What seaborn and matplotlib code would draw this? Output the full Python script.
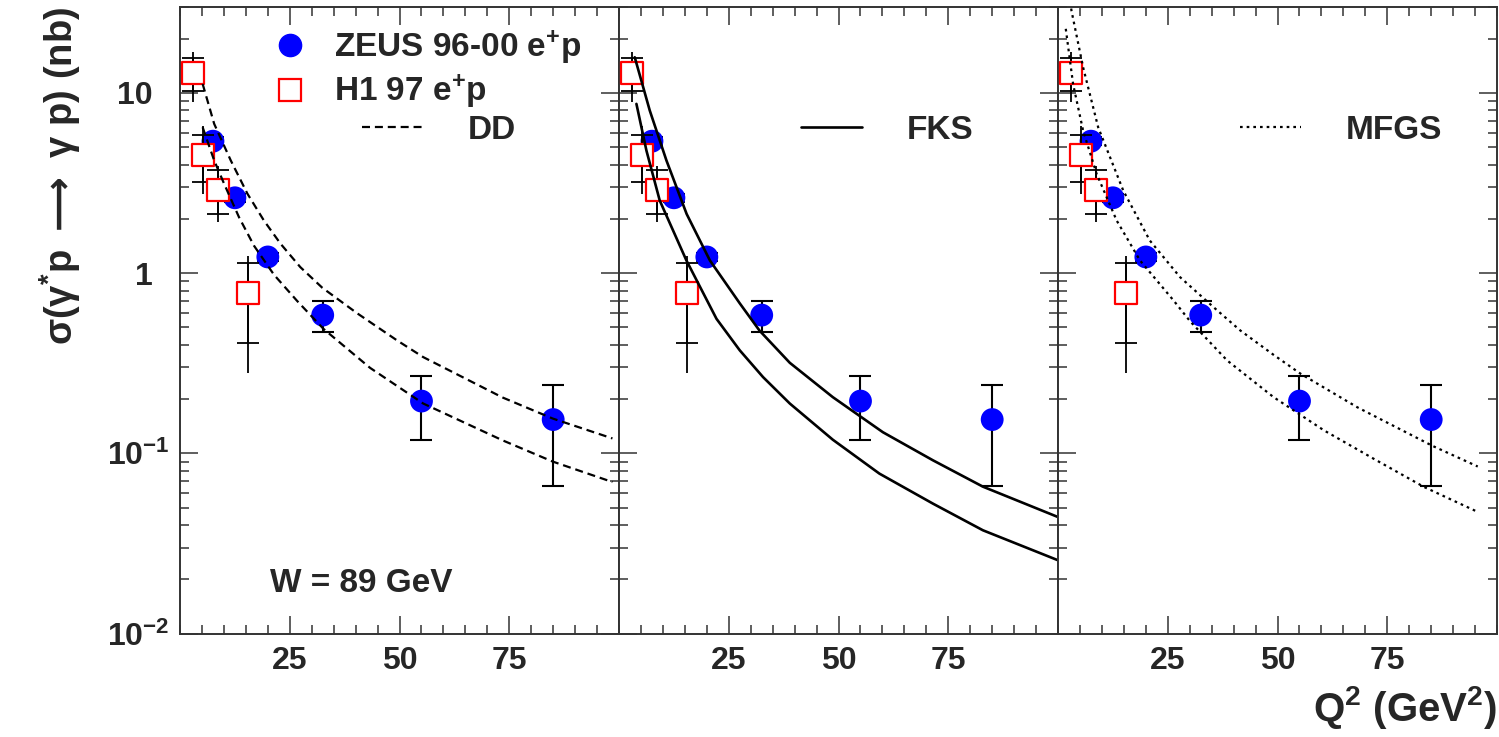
import numpy as np
import pandas as pd
import matplotlib
matplotlib.use("Agg")
import matplotlib.pyplot as plt
from matplotlib.lines import Line2D
from matplotlib.transforms import ScaledTranslation
from matplotlib.ticker import FixedLocator, MultipleLocator, LogLocator, NullFormatter, FixedFormatter
import seaborn as sns

# ---------------- data ----------------
zeus_q2 = [7.5, 12.5, 20.0, 32.5, 55.0, 85.0]
zeus_sigma = [5.40, 2.62, 1.23, 0.585, 0.195, 0.154]
zeus_lo = [5.13, 2.49, 1.17, 0.471, 0.119, 0.0656]
zeus_hi = [5.67, 2.75, 1.29, 0.70, 0.268, 0.241]

h1_q2 = [2.9, 5.2, 8.7, 15.5]
h1_sigma = [12.9, 4.54, 2.91, 0.78]
h1_tot_lo = [8.88, 2.76, 1.92, 0.280]
h1_tot_hi = [16.8, 6.59, 3.92, 1.25]
h1_stat_lo = [10.3, 3.20, 2.13, 0.411]
h1_stat_hi = [15.7, 5.81, 3.72, 1.136]

dd_up_q2 = [5.15, 7.78, 11.56, 15.35, 19.1, 22.9, 27.4, 32.4, 40.3, 49.4, 55.4, 73.5, 84.9, 98.5]
dd_up_sig = [11.23, 6.74, 4.22, 2.76, 1.96, 1.456, 1.08, 0.83, 0.60, 0.424, 0.342, 0.204, 0.156, 0.121]
dd_lo_q2 = [5.15, 7.78, 10.05, 13.45, 16.85, 21.4, 26.7, 32.7, 43.3, 55.4, 73.5, 84.9, 98.5]
dd_lo_sig = [6.45, 4.22, 3.13, 2.04, 1.42, 0.98, 0.70, 0.49, 0.298, 0.189, 0.118, 0.090, 0.0693]

fks_up_q2 = [3.58, 7.0, 10.8, 15.4, 20.7, 27.5, 32.0, 38.9, 48.7, 60.1, 71.5, 82.9, 100.0]
fks_up_sig = [15.78, 7.99, 4.22, 2.13, 1.176, 0.68, 0.48, 0.318, 0.205, 0.131, 0.0915, 0.0653, 0.0443]
fks_lo_q2 = [3.96, 6.24, 9.27, 15.35, 22.2, 27.5, 32.8, 38.9, 48.7, 59.3, 71.5, 82.9, 100.0]
fks_lo_sig = [8.70, 4.79, 2.53, 1.176, 0.558, 0.373, 0.265, 0.189, 0.119, 0.0772, 0.0526, 0.0374, 0.0255]

mfgs_up_q2 = [2.8, 3.06, 5.71, 9.14, 14.85, 20.9, 27.8, 35.4, 41.5, 49.1, 55.3, 68.2, 85.3, 95.6]
mfgs_up_sig = [32.0, 28.6, 13.88, 6.45, 2.875, 1.518, 0.950, 0.648, 0.481, 0.352, 0.276, 0.180, 0.110, 0.0845]
mfgs_lo_q2 = [1.76, 3.43, 5.71, 8.78, 13.35, 18.67, 26.3, 30.1, 38.5, 49.1, 60.6, 72.0, 83.4, 95.6]
mfgs_lo_sig = [22.7, 11.2, 6.18, 3.56, 1.96, 1.176, 0.706, 0.54, 0.328, 0.205, 0.134, 0.093, 0.065, 0.0473]

x_ticks = [25, 50, 75]
x_tick_labels = ["25", "50", "75"]
y_ticks = [0.01, 0.1, 1, 10]
y_tick_labels = ["10$^{-2}$", "10$^{-1}$", "1", "10"]

model_names = ["DD", "FKS", "MFGS"]
model_curves = [
    [(dd_up_q2, dd_up_sig), (dd_lo_q2, dd_lo_sig)],
    [(fks_up_q2, fks_up_sig), (fks_lo_q2, fks_lo_sig)],
    [(mfgs_up_q2, mfgs_up_sig), (mfgs_lo_q2, mfgs_lo_sig)],
]
model_styles = [(0, (3.6, 2.2)), "-", (0, (1.2, 1.8))]
model_lw = [1.6, 1.9, 1.6]

# ---------------- style ----------------
sns.set_theme(style="ticks")
plt.rcParams["font.family"] = ["Liberation Sans", "DejaVu Sans"]
plt.rcParams["font.weight"] = "bold"
plt.rcParams["mathtext.default"] = "regular"
plt.rcParams["axes.linewidth"] = 1.4
plt.rcParams["axes.edgecolor"] = "#333333"

fig = plt.figure(figsize=(14.99, 7.37), dpi=100)
left, right, bottom, top = 0.1201, 0.9987, 0.1404, 0.9905
w = (right - left) / 3
axes = []
for i in range(3):
    if i == 0:
        ax = fig.add_axes([left + i * w, bottom, w, top - bottom])
    else:
        ax = fig.add_axes([left + i * w, bottom, w, top - bottom], sharey=axes[0])
    axes.append(ax)

zeus_df = pd.DataFrame({"Q2": zeus_q2, "sigma": zeus_sigma})
h1_df = pd.DataFrame({"Q2": h1_q2, "sigma": h1_sigma})

for i, ax in enumerate(axes):
    ax.set_yscale("log")
    # model curves
    for (cx, cy) in model_curves[i]:
        sns.lineplot(x=cx, y=cy, ax=ax, color="black", linewidth=model_lw[i],
                     linestyle=model_styles[i], sort=False, estimator=None, zorder=7)
    # ZEUS
    zs = np.array(zeus_sigma)
    ax.errorbar(zeus_q2, zeus_sigma,
                yerr=[zs - np.array(zeus_lo), np.array(zeus_hi) - zs],
                fmt="none", ecolor="black", elinewidth=1.5, capsize=8, capthick=1.5, zorder=3)
    sns.scatterplot(data=zeus_df, x="Q2", y="sigma", ax=ax, marker="o", s=270,
                    color="blue", edgecolor="none", linewidth=0, zorder=4)
    # H1
    ax.vlines(h1_q2, h1_tot_lo, h1_tot_hi, color="black", linewidth=1.3, zorder=5)
    hs = np.array(h1_sigma)
    ax.errorbar(h1_q2, h1_sigma,
                yerr=[hs - np.array(h1_stat_lo), np.array(h1_stat_hi) - hs],
                fmt="none", ecolor="black", elinewidth=1.3, capsize=8, capthick=1.3, zorder=5)
    sns.scatterplot(data=h1_df, x="Q2", y="sigma", ax=ax, marker="s", s=235,
                    facecolor="white", edgecolor="red", linewidth=1.6, zorder=6)

    ax.set_xlim(0, 100)
    ax.set_ylim(0.01, 30)
    ax.xaxis.set_major_locator(FixedLocator(x_ticks))
    ax.xaxis.set_major_formatter(FixedFormatter(x_tick_labels))
    ax.xaxis.set_minor_locator(MultipleLocator(5))
    ax.yaxis.set_major_locator(FixedLocator(y_ticks))
    ax.yaxis.set_major_formatter(FixedFormatter(y_tick_labels))
    ax.yaxis.set_minor_locator(LogLocator(base=10, subs=np.arange(2, 10), numticks=20))
    ax.yaxis.set_minor_formatter(NullFormatter())
    ax.tick_params(which="both", direction="in", top=True, right=True, width=1.1,
                   color="#333333")
    ax.tick_params(which="major", length=13)
    ax.tick_params(which="minor", length=6.5)
    ax.tick_params(axis="x", which="major", labelsize=23, pad=9)
    ax.tick_params(axis="y", which="major", labelsize=23, pad=20)
    ax.set_xlabel("")
    ax.set_ylabel("")
    if i > 0:
        ax.tick_params(axis="y", labelleft=False)
    for lab in ax.get_xticklabels() + ax.get_yticklabels():
        lab.set_fontweight("bold")

    # model legend
    mh = Line2D([], [], color="black", linewidth=model_lw[i], linestyle=model_styles[i])
    leg = ax.legend(handles=[mh], labels=[model_names[i]], loc="upper left",
                    bbox_to_anchor=(0.4146, 0.828), frameon=False, fontsize=24,
                    handlelength=1.82, handletextpad=1.36, borderpad=0, borderaxespad=0)
    for t in leg.get_texts():
        t.set_fontweight("bold")

# data legend in first panel
ax1 = axes[0]
model_leg = ax1.get_legend()
hz = Line2D([], [], marker="o", linestyle="none", markerfacecolor="blue",
            markeredgecolor="blue", markersize=16)
hh = Line2D([], [], marker="s", linestyle="none", markerfacecolor="white",
            markeredgecolor="red", markeredgewidth=1.6, markersize=15.3)
leg1 = ax1.legend(handles=[hz, hh], labels=["ZEUS 96-00 e$^{+}$p", "H1 97 e$^{+}$p"],
                  loc="upper left", bbox_to_anchor=(0.213, 0.966), frameon=False,
                  fontsize=24, handlelength=1.0, handletextpad=0.8, borderpad=0,
                  borderaxespad=0, labelspacing=0.2)
for t in leg1.get_texts():
    t.set_fontweight("bold")
ax1.add_artist(model_leg)

# shift exponent-style y labels so that their "10" lines up with the plain "10"
for tick in ax1.yaxis.get_major_ticks():
    lab = tick.label1
    if "^" in lab.get_text():
        lab.set_transform(lab.get_transform() + ScaledTranslation(0.17, 0, fig.dpi_scale_trans))

ax1.text(0.205, 0.066, "W = 89 GeV", transform=ax1.transAxes, fontsize=24,
         fontweight="bold", va="baseline", ha="left")

ax1.set_ylabel(r"σ(γ$^{*}$p $\mathsf{\longrightarrow}$ γ p) (nb)", fontsize=27.5,
               fontweight="bold", loc="top", labelpad=17)
axes[2].set_xlabel("Q$^{2}$ (GeV$^{2}$)", fontsize=29, fontweight="bold",
                   loc="right", labelpad=6)

fig.savefig("out.png", dpi=100)
